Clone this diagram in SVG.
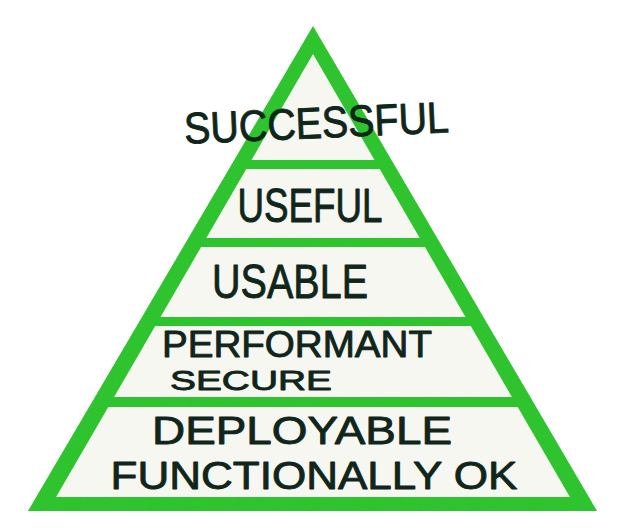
<svg xmlns="http://www.w3.org/2000/svg" width="625" height="529" viewBox="0 0 625 529">
  <defs>
    <filter id="tex" x="0" y="0" width="1" height="1">
      <feTurbulence type="fractalNoise" baseFrequency="0.9" numOctaves="2" seed="3" result="n"/>
      <feColorMatrix in="n" type="matrix" values="0 0 0 0 0.05  0 0 0 0 0.5  0 0 0 0 0.05  0 0 0 2.2 -0.9" result="spots"/>
      <feComposite in="spots" in2="SourceGraphic" operator="in" result="s"/>
      <feMerge><feMergeNode in="SourceGraphic"/><feMergeNode in="s"/></feMerge>
    </filter>
    <style>
      .frame { fill: #2ac62a; }
      .band { fill: #f7f7f2; }
      .lbl { font-family: "Liberation Sans", "DejaVu Sans", sans-serif; fill: #10261a; stroke: #10261a; stroke-width: 0.9; stroke-linejoin: round; text-anchor: middle; }
    </style>
  </defs>
  <rect width="625" height="529" fill="#ffffff"/>
  <g id="pyramid-frame">
    <polygon class="frame" filter="url(#tex)" points="313,26 597,511 28,511"/>
  </g>
  <g id="level-successful">
    <polygon class="band" points="313,54 374.5,160 251.5,160"/>
    <text class="lbl" x="317" y="138" font-size="44" textLength="265" lengthAdjust="spacingAndGlyphs" transform="rotate(-2.5 317 135)">SUCCESSFUL</text>
  </g>
  <g id="level-useful">
    <polygon class="band" points="246.3,169 379.7,169 419.7,238 206.3,238"/>
    <text class="lbl" x="310" y="222" font-size="48" textLength="145" lengthAdjust="spacingAndGlyphs">USEFUL</text>
  </g>
  <g id="level-usable">
    <polygon class="band" points="201.1,247 424.9,247 465.5,317 160.5,317"/>
    <text class="lbl" x="290" y="298" font-size="49" textLength="156" lengthAdjust="spacingAndGlyphs">USABLE</text>
  </g>
  <g id="level-performant-secure">
    <polygon class="band" points="155.2,326 470.8,326 511.9,397 114.1,397"/>
    <text class="lbl" x="297" y="357" font-size="36" textLength="270" lengthAdjust="spacingAndGlyphs">PERFORMANT</text>
    <text class="lbl" x="251" y="390" font-size="28" textLength="162" lengthAdjust="spacingAndGlyphs">SECURE</text>
  </g>
  <g id="level-deployable-functional">
    <polygon class="band" points="108.3,407 517.7,407 569.9,497 56.1,497"/>
    <text class="lbl" x="302" y="444" font-size="39" textLength="300" lengthAdjust="spacingAndGlyphs">DEPLOYABLE</text>
    <text class="lbl" x="314" y="489" font-size="39" textLength="407" lengthAdjust="spacingAndGlyphs">FUNCTIONALLY OK</text>
  </g>
  <g id="connectors"/>
</svg>
